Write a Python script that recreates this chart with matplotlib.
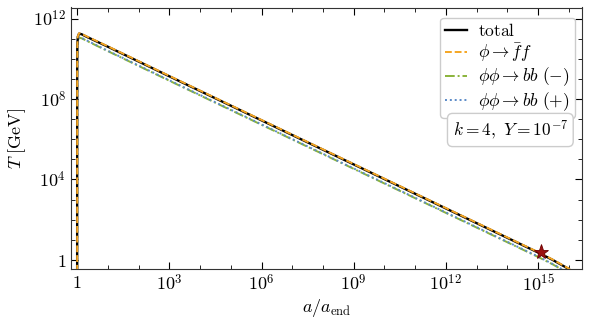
import numpy as np
import matplotlib
matplotlib.use("Agg")
import matplotlib.pyplot as plt
from matplotlib.ticker import FixedLocator, NullFormatter

plt.rcParams['mathtext.fontset'] = 'cm'
plt.rcParams['font.family'] = 'serif'
plt.rcParams['font.serif'] = ['DejaVu Serif']

# data
a_vals = [1.0, 1.004, 1.015, 1.05, 1.15, 1.4, 2.0, 10.0, 1e3, 1e6, 1e9, 1e12, 1e15, 3e15, 1e16, 3e16]
logT_total = [-3.0, 9.5, 10.7, 11.1, 11.25, 11.22, 11.1, 10.6, 9.13, 6.94, 4.75, 2.56, 0.37, 0.0, -0.45, -1.2]
logT_ff = [-3.0, 9.5, 10.72, 11.12, 11.27, 11.24, 11.12, 10.62, 9.15, 6.96, 4.77, 2.58, 0.39, 0.02, -0.43, -1.18]
logT_bbm = [-3.0, 9.3, 10.5, 10.9, 11.05, 11.02, 10.9, 10.38, 8.91, 6.72, 4.53, 2.34, 0.15, -0.22, -0.67, -1.42]
logT_bbp = [-3.0, 9.3, 10.52, 10.92, 11.07, 11.04, 10.92, 10.4, 8.93, 6.74, 4.55, 2.36, 0.17, -0.2, -0.65, -1.4]
star_a = [1.26e15]
star_T = [2.5]
k_val = 4
Y_label = r"10^{-7}"

W, H = 591, 327
L, R, T, B = 71, 582, 7.5, 269
fig = plt.figure(figsize=(W/100, H/100), dpi=100)
ax = fig.add_axes([L/W, 1 - B/H, (R-L)/W, (B-T)/H])

a = np.array(a_vals)
ax.plot(a, 10**np.array(logT_total), color='black', lw=1.7, label=r'$\mathrm{total}$', zorder=3)
ax.plot(a, 10**np.array(logT_ff), color='#F5A623', lw=1.4, ls=(0, (3.5, 1.5)), label=r'$\phi\to\bar{f}f$', zorder=4)
ax.plot(a, 10**np.array(logT_bbm), color='#8AB33A', lw=1.4, ls=(0, (5, 1.5, 1, 1.5)), label=r'$\phi\phi\to bb\ (-)$', zorder=2)
ax.plot(a, 10**np.array(logT_bbp), color='#5A8AC8', lw=1.4, ls=(0, (1, 1.5)), label=r'$\phi\phi\to bb\ (+)$', zorder=2)
ax.plot(star_a, star_T, marker='*', color='#9B1111', markersize=11, mec='#6B0000', mew=0.6, ls='none', zorder=5)

ax.set_xscale('log')
ax.set_yscale('log')
ax.set_xlim(10**-0.2, 10**16.43)
ax.set_ylim(10**-0.45, 10**12.55)

ax.xaxis.set_major_locator(FixedLocator([1, 1e3, 1e6, 1e9, 1e12, 1e15]))
ax.xaxis.set_minor_locator(FixedLocator([10.0**k for k in range(0, 17)]))
ax.xaxis.set_minor_formatter(NullFormatter())
ax.set_xticklabels([r'$1$', r'$10^{3}$', r'$10^{6}$', r'$10^{9}$', r'$10^{12}$', r'$10^{15}$'])
ax.yaxis.set_major_locator(FixedLocator([1, 1e4, 1e8, 1e12]))
ax.yaxis.set_minor_locator(FixedLocator([10.0**k for k in range(0, 13)]))
ax.yaxis.set_minor_formatter(NullFormatter())
ax.set_yticklabels([r'$1$', r'$10^{4}$', r'$10^{8}$', r'$10^{12}$'])

ax.tick_params(which='both', direction='in', top=True, right=True, labelsize=13)
ax.tick_params(which='major', length=5, width=0.8)
ax.tick_params(which='minor', length=3, width=0.6)
for s in ax.spines.values():
    s.set_linewidth(0.8)
    s.set_color('#333333')

ax.set_xlabel(r'$a/a_{\mathrm{end}}$', fontsize=13, labelpad=2)
ax.set_ylabel(r'$T\ [\mathrm{GeV}]$', fontsize=13, labelpad=4)

leg = ax.legend(loc='upper right', bbox_to_anchor=((575-L)/(R-L), (B-18)/(B-T)),
                borderaxespad=0, fontsize=12.5, frameon=True, fancybox=True,
                edgecolor='#cccccc', framealpha=1, handlelength=1.25, handletextpad=0.65,
                borderpad=0.3, labelspacing=0.08)
leg.get_frame().set_linewidth(1.0)

ax.text((568-L)/(R-L), (B-130)/(B-T), r'$k=%d,\ Y=%s$' % (k_val, Y_label), transform=ax.transAxes,
        ha='right', va='center', fontsize=12.5, zorder=10,
        bbox=dict(boxstyle='round,pad=0.3', fc='white', ec='#cccccc', lw=1.0))

fig.savefig('out.png', dpi=100)
